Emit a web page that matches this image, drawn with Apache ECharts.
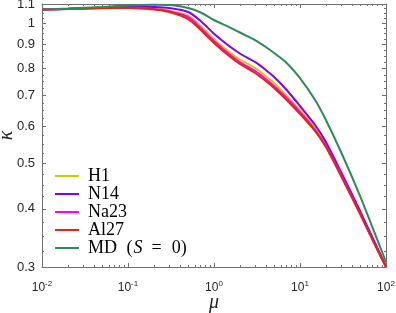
<!DOCTYPE html>
<html><head><meta charset="utf-8">
<script src="https://cdn.jsdelivr.net/npm/echarts@6/dist/echarts.min.js"></script>
<style>html,body{margin:0;padding:0;background:#fff}#c{width:396px;height:313px}</style>
</head><body><div id="c"></div>
<script>
const mu   = [0.01,0.02,0.05,0.1,0.2,0.3,0.5,0.7,1,1.5,2,3,4,5,7,10,15,20,30,50,70,100];
const H1   = [1.0705,1.0731,1.0785,1.0812,1.0758,1.0652,1.0393,0.9867,0.9254,0.8677,0.8363,0.8020,0.7706,0.7447,0.6982,0.6516,0.5961,0.5480,0.4749,0.3916,0.3444,0.3007];
const N14  = [1.0705,1.0742,1.0812,1.0865,1.0839,1.0785,1.0574,1.0114,0.9500,0.8938,0.8613,0.8261,0.7941,0.7668,0.7193,0.6646,0.6050,0.5563,0.4796,0.3955,0.3462,0.3014];
const Na23 = [1.0705,1.0731,1.0780,1.0796,1.0731,1.0611,1.0316,0.9770,0.9162,0.8591,0.8261,0.7902,0.7596,0.7337,0.6915,0.6452,0.5900,0.5453,0.4725,0.3906,0.3427,0.3000];
const Al27 = [1.0705,1.0731,1.0775,1.0785,1.0705,1.0574,1.0214,0.9674,0.9074,0.8506,0.8180,0.7824,0.7521,0.7264,0.6846,0.6387,0.5872,0.5426,0.4701,0.3897,0.3427,0.3000];
const MD   = [1.0705,1.0758,1.0839,1.0919,1.0956,1.0946,1.0785,1.0548,1.0164,0.9817,0.9555,0.9207,0.8896,0.8634,0.8220,0.7631,0.6846,0.6203,0.5294,0.4260,0.3638,0.3075];
const seriesNames = ['H1','N14','Na23','Al27','MD'];
const seriesData = [H1,N14,Na23,Al27,MD];
const colors = ['#cccc00','#7f00ff','#ff00ff','#e6260a','#2e8b57'];
const xMajor = [0.01,0.1,1,10,100];
const yMajor = [0.3,0.4,0.5,0.6,0.7,0.8,0.9,1,1.1];
const xMinor = [];
for (let e=-2;e<2;e++) for (let m=2;m<=9;m++) xMinor.push(m*Math.pow(10,e));
const yMinor = [];
for (let k=13;k<44;k++) { if (k%4!==0) yMinor.push(k*0.025); }

const axisCol = '#707070';
const labCol = '#262626';
function xAx(pos, ticks, len, labels, line) {
  return {type:'log', logBase:10, min:0.01, max:100, position:pos, gridIndex:0,
    axisLine:{show:line, onZero:false, lineStyle:{color:axisCol,width:1}},
    axisTick:{show:true, inside:true, length:len, customValues:ticks, lineStyle:{color:axisCol}},
    axisLabel:{show:labels, customValues:xMajor, margin:13, color:labCol, fontFamily:'Liberation Sans', fontSize:12,
      formatter:v=>'10{s|'+Math.round(Math.log10(v))+'}',
      rich:{s:{fontSize:8, verticalAlign:'top', padding:[0,0,8,0], color:labCol, fontFamily:'Liberation Sans'}}},
    splitLine:{show:false}, minorTick:{show:false}};
}
function yAx(pos, ticks, len, labels, line) {
  return {type:'log', logBase:10, min:0.3, max:1.1, position:pos, gridIndex:0,
    axisLine:{show:line, onZero:false, lineStyle:{color:axisCol,width:1}},
    axisTick:{show:true, inside:true, length:len, customValues:ticks, lineStyle:{color:axisCol}},
    axisLabel:{show:labels, customValues:yMajor, margin:7, color:labCol, fontFamily:'Liberation Sans', fontSize:13,
      formatter:v=>String(parseFloat(v.toFixed(2)))},
    splitLine:{show:false}, minorTick:{show:false}};
}
const xAxes = [xAx('bottom',xMajor,4,true,true), xAx('bottom',xMinor,2,false,false), xAx('top',xMajor,4,false,true), xAx('top',xMinor,2,false,false)];
xAxes[0].name='μ'; xAxes[0].nameLocation='middle'; xAxes[0].nameGap=26; xAxes[0].nameMoveOverlap=false;
xAxes[0].nameTextStyle={fontFamily:'Liberation Serif', fontStyle:'italic', fontSize:20, color:labCol};
const yAxes = [yAx('left',yMajor,4,true,true), yAx('left',yMinor,2,false,false), yAx('right',yMajor,4,false,true), yAx('right',yMinor,2,false,false)];
yAxes[0].name='κ'; yAxes[0].nameLocation='middle'; yAxes[0].nameGap=25; yAxes[0].nameRotate=90; yAxes[0].nameMoveOverlap=false;
yAxes[0].nameTextStyle={fontFamily:'Liberation Serif', fontStyle:'italic', fontSize:20, color:labCol};

const chart = echarts.init(document.getElementById('c'), null, {renderer:'canvas'});
chart.setOption({
  animation:false,
  backgroundColor:'#fff',
  grid:{left:42, right:10, top:4, bottom:46, containLabel:false, outerBoundsMode:'none'},
  xAxis:xAxes, yAxis:yAxes,
  legend:{left:50, top:162, orient:'vertical', icon:'rect', itemWidth:24, itemHeight:2, itemGap:0,
    data:seriesNames,
    textStyle:{fontFamily:'Liberation Serif', fontSize:18, color:'#000', lineHeight:18, padding:[0,0,0,4],
      rich:{
        a:{fontFamily:'Liberation Serif', fontSize:18, color:'#000', padding:[0,0,0,5]},
        i:{fontStyle:'italic', fontFamily:'Liberation Serif', fontSize:18, color:'#000', padding:[0,0,0,1]},
        e:{fontFamily:'Liberation Serif', fontSize:18, color:'#000', padding:[0,9,0,9]},
        z:{fontFamily:'Liberation Serif', fontSize:18, color:'#000', padding:[0,0,0,1]}}},
    formatter:n=> n==='MD' ? 'MD {a|(}{i|S}{e|=}{z|0)}' : n},
  series: seriesNames.map((n,i)=>({name:n, type:'line', xAxisIndex:0, yAxisIndex:0, symbol:'none', smooth:0.3,
    lineStyle:{width:2, color:colors[i]}, itemStyle:{color:colors[i]},
    data: mu.map((m,j)=>[m, seriesData[i][j]])}))
});
</script></body></html>
